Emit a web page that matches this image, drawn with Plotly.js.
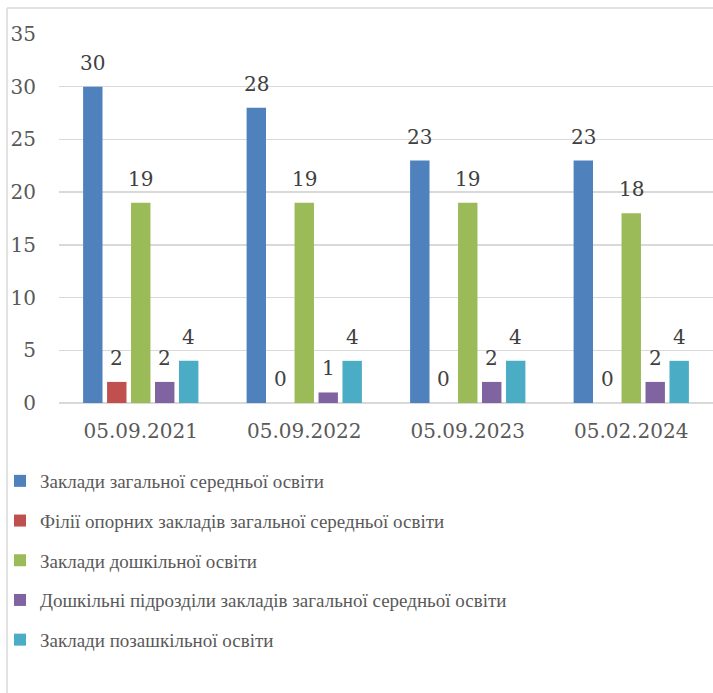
<!DOCTYPE html>
<html>
<head>
<meta charset="utf-8">
<script src="https://cdn.plot.ly/plotly-3.0.1.min.js"></script>
<style>
html,body{margin:0;padding:0;background:#fff;}
#chart{width:713px;height:693px;}
</style>
</head>
<body>
<div id="chart"></div>
<script>
const categories = ["05.09.2021", "05.09.2022", "05.09.2023", "05.02.2024"];
const seriesNames = [
  "Заклади загальної середньої освіти",
  "Філії опорних закладів загальної середньої освіти",
  "Заклади дошкільної освіти",
  "Дошкільні підрозділи закладів загальної середньої освіти",
  "Заклади позашкільної освіти"
];
const generalSecondary = [30, 28, 23, 23];
const branches = [2, 0, 0, 0];
const preschool = [19, 19, 19, 18];
const preschoolUnits = [2, 1, 2, 2];
const outOfSchool = [4, 4, 4, 4];
const yTicks = [0, 5, 10, 15, 20, 25, 30, 35];

const seriesValues = [generalSecondary, branches, preschool, preschoolUnits, outOfSchool];
const colors = ["#4f81bd", "#c0504d", "#9bbb59", "#8064a2", "#4bacc6"];

const W = 713, H = 693;
const margin = {l: 59, r: 0, t: 34, b: 290, autoexpand: false};
const plotW = W - margin.l - margin.r;
const plotH = H - margin.t - margin.b;
const numFont = "'DejaVu Serif', serif";
const legFont = "'Liberation Serif', 'DejaVu Serif', serif";

const traces = seriesValues.map((vals, i) => ({
  type: "bar",
  name: seriesNames[i],
  legendgroup: "g" + i,
  x: categories,
  y: vals,
  marker: {color: colors[i], line: {width: 0}},
  hoverinfo: "none"
}));

const barPitch = plotW / categories.length * 0.733 / seriesValues.length;
const annotations = [];
seriesValues.forEach((vals, i) => {
  vals.forEach((v, j) => {
    annotations.push({
      x: categories[j], y: v, xref: "x", yref: "y",
      text: String(v), showarrow: false,
      xshift: (i - (seriesValues.length - 1) / 2) * barPitch,
      yanchor: "bottom", yshift: 10,
      font: {family: numFont, size: 20, color: "#404040"}
    });
  });
});

// chart frame (left and top border)
const px = (x) => (x - margin.l) / plotW;
const py = (y) => (H - margin.b - y) / plotH;
const shapes = [
  {type: "line", xref: "paper", yref: "paper", x0: px(7), x1: px(7), y0: py(8), y1: py(H), line: {color: "#d9d9d9", width: 1.5}, layer: "above"},
  {type: "line", xref: "paper", yref: "paper", x0: px(7), x1: px(W + 5), y0: py(8), y1: py(8), line: {color: "#d9d9d9", width: 1.5}, layer: "above"}
];

const layout = {
  width: W, height: H,
  margin: margin,
  paper_bgcolor: "#ffffff",
  plot_bgcolor: "#ffffff",
  barmode: "group",
  bargap: 0.267,
  bargroupgap: 0.19,
  showlegend: true,
  font: {family: legFont, color: "#595959", size: 19},
  xaxis: {
    type: "category",
    tickfont: {family: numFont, size: 20, color: "#595959"},
    showgrid: false, showline: false, ticks: "", zeroline: false,
    tickangle: 0,
    ticklabelstandoff: 14
  },
  yaxis: {
    range: [0, 35],
    tickvals: yTicks,
    ticktext: yTicks.map(String),
    tickfont: {family: numFont, size: 20, color: "#595959"},
    showgrid: true, gridcolor: "#d9d9d9", gridwidth: 1.3,
    zeroline: true, zerolinecolor: "#d9d9d9", zerolinewidth: 1.3,
    showline: false, ticks: "",
    ticklabelstandoff: 22
  },
  legend: {
    orientation: "v",
    xref: "container", yref: "container",
    x: 0, xanchor: "left",
    y: 1 - 462 / H, yanchor: "top",
    font: {family: legFont, size: 19, color: "#595959"},
    tracegroupgap: 12,
    bgcolor: "rgba(0,0,0,0)"
  },
  annotations: annotations,
  shapes: shapes
};

Plotly.newPlot("chart", traces, layout, {displayModeBar: false, staticPlot: true});
</script>
</body>
</html>
